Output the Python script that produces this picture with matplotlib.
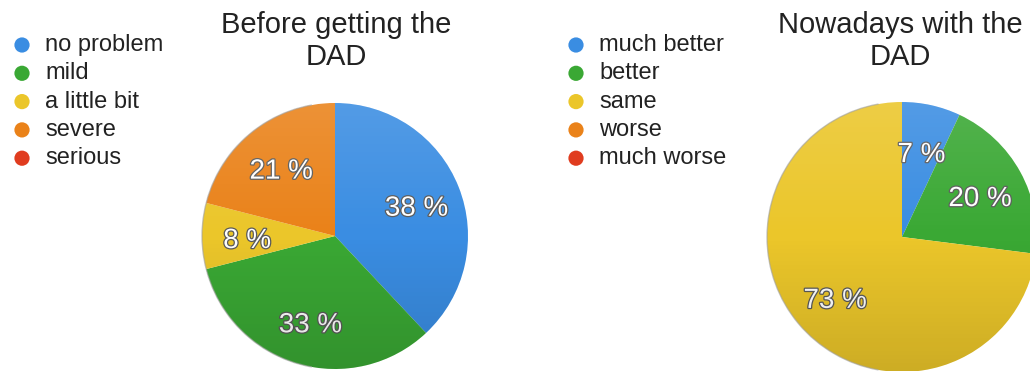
import numpy as np
import matplotlib.pyplot as plt
import matplotlib.patheffects as pe
from matplotlib.patches import Circle, Arc

plt.rcParams['font.family'] = ['Liberation Sans', 'DejaVu Sans']

# survey answers, in percent
before_labels = ['no problem', 'mild', 'a little bit', 'severe', 'serious']
before_values = [38, 33, 8, 21, 0]
now_labels = ['much better', 'better', 'same', 'worse', 'much worse']
now_values = [7, 20, 73, 0, 0]
before_title = 'Before getting the\nDAD'
now_title = 'Nowadays with the\nDAD'

colors = ['#3a8de2', '#3aa834', '#ebc62a', '#ea8219', '#e03c1f']

W, H = 1030, 371
fig = plt.figure(figsize=(W / 100, H / 100), dpi=100)
ax = fig.add_axes([0, 0, 1, 1])

label_fx = [pe.withStroke(linewidth=1.8, foreground='#5a5a5a')]


def pct_text(p):
    return f'{p:.0f} %' if p > 0.5 else ''


def draw_pie(values, center, radius):
    wedges, _, autotexts = ax.pie(
        values, colors=colors, startangle=90, counterclock=False,
        center=center, radius=radius, autopct=pct_text, pctdistance=0.66,
        wedgeprops=dict(linewidth=0), frame=True,
        textprops=dict(color='white', fontsize=20))
    for t in autotexts:
        x, y = t.get_position()
        t.set_position((x, y - 5))
        t.set_path_effects(label_fx)
    # soft vertical shading over the whole disc: lighter on top, darker below
    clip = Circle(center, radius, transform=ax.transData)
    grad = np.linspace(0, 1, 256)[:, None]
    shade = np.zeros((256, 1, 4))
    shade[..., :3] = np.where(grad < 0.5, 1.0, 0.0)[..., None]
    shade[..., 3] = np.abs(grad - 0.5) * 0.26
    im = ax.imshow(shade, extent=(center[0] - radius, center[0] + radius,
                                  center[1] - radius, center[1] + radius),
                   aspect='auto', zorder=3, interpolation='bilinear')
    im.set_clip_path(clip)
    ax.add_patch(Arc(center, 2 * radius, 2 * radius, theta1=100, theta2=260,
                     edgecolor='#a0a0a0', linewidth=1.0, alpha=0.6, zorder=3))


def draw_legend(labels, x0, y0, step):
    for i, (lab, c) in enumerate(zip(labels, colors)):
        y = y0 - i * step
        ax.scatter([x0], [y], s=120, color=c, edgecolors='none', zorder=4)
        ax.text(x0 + 23, y, lab, fontsize=17, color='#222222',
                va='center', ha='left')


draw_pie(before_values, (335, 135), 133)
draw_pie(now_values, (902, 134), 135)

draw_legend(before_labels, 22, H - 45, 28.3)
draw_legend(now_labels, 576, H - 45, 28.3)

ax.text(336, H - 41, before_title, fontsize=21, color='#222222',
        ha='center', va='center', linespacing=1.15)
ax.text(900, H - 41, now_title, fontsize=21, color='#222222',
        ha='center', va='center', linespacing=1.15)

ax.set_xlim(0, W)
ax.set_ylim(0, H)
ax.set_aspect('auto')
ax.axis('off')

fig.savefig('out.png', dpi=100)
